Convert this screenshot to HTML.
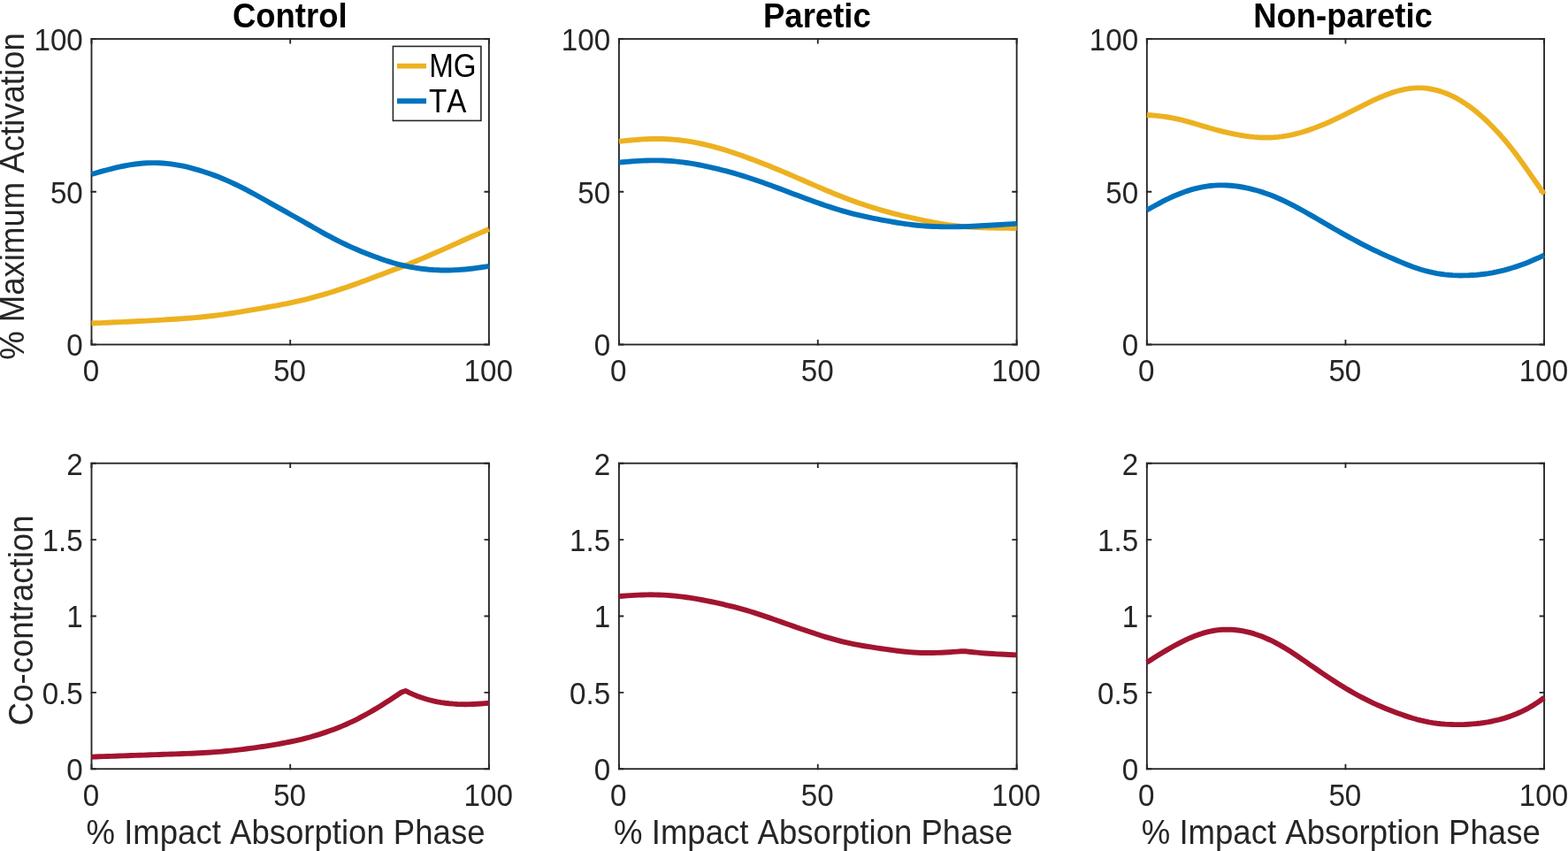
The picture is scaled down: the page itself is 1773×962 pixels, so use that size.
<!DOCTYPE html>
<html lang="en">
<head>
<meta charset="utf-8">
<title>Muscle activation and co-contraction</title>
<style>
html,body{margin:0;padding:0;background:#fff;}
body{width:1773px;height:962px;overflow:hidden;font-family:"Liberation Sans", Arial, Helvetica, sans-serif;}
svg{display:block;}
text{white-space:pre;font-kerning:none;}
</style>
</head>
<body>
<svg width="1773" height="962" viewBox="0 0 1773 962" font-family='"Liberation Sans", Arial, Helvetica, sans-serif'>
<rect width="1773" height="962" fill="#fff"/>
<g stroke="#262626" stroke-width="1.85" fill="none">
<rect x="103.5" y="44.0" width="449.4" height="345.5"/>
<path d="M103.50,390.50v-6.40M103.50,43.00v6.40M328.20,390.50v-6.40M328.20,43.00v6.40M552.90,390.50v-6.40M552.90,43.00v6.40M102.50,389.50h6.40M553.90,389.50h-6.40M102.50,216.75h6.40M553.90,216.75h-6.40M102.50,44.00h6.40M553.90,44.00h-6.40"/>
</g>
<g fill="none" stroke-width="5.9" stroke-linejoin="round">
<path d="M103.50,365.50 L107.99,365.31 L112.49,365.11 L116.98,364.91 L121.48,364.72 L125.97,364.52 L130.46,364.32 L134.96,364.12 L139.45,363.92 L143.95,363.71 L148.44,363.51 L152.93,363.29 L157.43,363.07 L161.92,362.84 L166.42,362.60 L170.91,362.36 L175.40,362.10 L179.90,361.84 L184.39,361.57 L188.89,361.30 L193.38,361.02 L197.87,360.74 L202.37,360.44 L206.86,360.14 L211.36,359.81 L215.85,359.47 L220.34,359.09 L224.84,358.69 L229.33,358.25 L233.83,357.77 L238.32,357.26 L242.81,356.72 L247.31,356.15 L251.80,355.55 L256.30,354.93 L260.79,354.27 L265.28,353.59 L269.78,352.89 L274.27,352.17 L278.77,351.43 L283.26,350.67 L287.75,349.90 L292.25,349.12 L296.74,348.33 L301.24,347.52 L305.73,346.71 L310.22,345.88 L314.72,345.04 L319.21,344.18 L323.71,343.30 L328.20,342.39 L332.69,341.45 L337.19,340.46 L341.68,339.42 L346.18,338.32 L350.67,337.17 L355.16,335.96 L359.66,334.71 L364.15,333.41 L368.65,332.08 L373.14,330.71 L377.63,329.31 L382.13,327.89 L386.62,326.43 L391.12,324.94 L395.61,323.41 L400.10,321.85 L404.60,320.24 L409.09,318.60 L413.59,316.93 L418.08,315.24 L422.57,313.54 L427.07,311.84 L431.56,310.15 L436.06,308.46 L440.55,306.79 L445.04,305.10 L449.54,303.40 L454.03,301.67 L458.53,299.91 L463.02,298.13 L467.51,296.32 L472.01,294.48 L476.50,292.61 L481.00,290.71 L485.49,288.78 L489.98,286.83 L494.48,284.87 L498.97,282.88 L503.47,280.88 L507.96,278.87 L512.45,276.85 L516.95,274.83 L521.44,272.81 L525.94,270.80 L530.43,268.80 L534.92,266.82 L539.42,264.85 L543.91,262.90 L548.41,260.95 L552.90,259.01" stroke="#EDB120"/>
<path d="M103.50,197.01 L107.99,195.72 L112.49,194.45 L116.98,193.20 L121.48,191.99 L125.97,190.83 L130.46,189.72 L134.96,188.69 L139.45,187.74 L143.95,186.89 L148.44,186.13 L152.93,185.48 L157.43,184.95 L161.92,184.54 L166.42,184.26 L170.91,184.11 L175.40,184.10 L179.90,184.23 L184.39,184.48 L188.89,184.87 L193.38,185.40 L197.87,186.05 L202.37,186.83 L206.86,187.72 L211.36,188.72 L215.85,189.83 L220.34,191.03 L224.84,192.33 L229.33,193.71 L233.83,195.18 L238.32,196.73 L242.81,198.38 L247.31,200.12 L251.80,201.95 L256.30,203.87 L260.79,205.88 L265.28,207.98 L269.78,210.15 L274.27,212.39 L278.77,214.70 L283.26,217.08 L287.75,219.51 L292.25,221.98 L296.74,224.49 L301.24,227.02 L305.73,229.56 L310.22,232.11 L314.72,234.65 L319.21,237.17 L323.71,239.69 L328.20,242.21 L332.69,244.73 L337.19,247.25 L341.68,249.79 L346.18,252.35 L350.67,254.92 L355.16,257.49 L359.66,260.04 L364.15,262.57 L368.65,265.05 L373.14,267.47 L377.63,269.83 L382.13,272.13 L386.62,274.35 L391.12,276.51 L395.61,278.60 L400.10,280.61 L404.60,282.57 L409.09,284.45 L413.59,286.27 L418.08,288.02 L422.57,289.72 L427.07,291.35 L431.56,292.94 L436.06,294.46 L440.55,295.92 L445.04,297.28 L449.54,298.53 L454.03,299.66 L458.53,300.70 L463.02,301.62 L467.51,302.44 L472.01,303.16 L476.50,303.78 L481.00,304.30 L485.49,304.73 L489.98,305.06 L494.48,305.29 L498.97,305.44 L503.47,305.49 L507.96,305.44 L512.45,305.32 L516.95,305.10 L521.44,304.81 L525.94,304.44 L530.43,303.99 L534.92,303.47 L539.42,302.90 L543.91,302.27 L548.41,301.61 L552.90,300.94" stroke="#0072BD"/>
</g>
<g fill="#262626" font-size="33.2">
<text transform="translate(102.90,431.35) scale(1.0,1.075)" text-anchor="middle">0</text>
<text transform="translate(327.60,431.35) scale(1.0,1.075)" text-anchor="middle">50</text>
<text transform="translate(552.30,431.35) scale(1.0,1.075)" text-anchor="middle">100</text>
<text transform="translate(93.80,402.35) scale(1.0,1.075)" text-anchor="end">0</text>
<text transform="translate(93.80,229.60) scale(1.0,1.075)" text-anchor="end">50</text>
<text transform="translate(93.80,56.85) scale(1.0,1.075)" text-anchor="end">100</text>
</g>
<text transform="translate(327.80,30.50) scale(1.0,1.05)" text-anchor="middle" font-size="36.5" fill="#000" font-weight="bold">Control</text>
<text transform="translate(27.10,222.05) rotate(-90) scale(1.0,1.045)" text-anchor="middle" font-size="36.55" fill="#262626">% Maximum Activation</text>
<g stroke="#262626" stroke-width="1.85" fill="none">
<rect x="699.9" y="44.0" width="449.75" height="345.5"/>
<path d="M699.90,390.50v-6.40M699.90,43.00v6.40M924.77,390.50v-6.40M924.77,43.00v6.40M1149.65,390.50v-6.40M1149.65,43.00v6.40M698.90,389.50h6.40M1150.65,389.50h-6.40M698.90,216.75h6.40M1150.65,216.75h-6.40M698.90,44.00h6.40M1150.65,44.00h-6.40"/>
</g>
<g fill="none" stroke-width="5.9" stroke-linejoin="round">
<path d="M699.90,159.83 L704.40,159.37 L708.89,158.91 L713.39,158.49 L717.89,158.09 L722.39,157.73 L726.88,157.43 L731.38,157.20 L735.88,157.04 L740.38,156.96 L744.88,156.96 L749.37,157.05 L753.87,157.23 L758.37,157.49 L762.87,157.84 L767.36,158.28 L771.86,158.81 L776.36,159.42 L780.86,160.13 L785.35,160.92 L789.85,161.79 L794.35,162.74 L798.85,163.78 L803.34,164.88 L807.84,166.06 L812.34,167.32 L816.84,168.64 L821.33,170.02 L825.83,171.46 L830.33,172.95 L834.83,174.49 L839.32,176.08 L843.82,177.70 L848.32,179.36 L852.82,181.05 L857.31,182.76 L861.81,184.51 L866.31,186.28 L870.81,188.08 L875.30,189.91 L879.80,191.76 L884.30,193.64 L888.80,195.54 L893.29,197.46 L897.79,199.40 L902.29,201.34 L906.79,203.30 L911.28,205.25 L915.78,207.21 L920.28,209.16 L924.78,211.10 L929.27,213.03 L933.77,214.93 L938.27,216.82 L942.77,218.67 L947.26,220.50 L951.76,222.28 L956.26,224.03 L960.76,225.73 L965.25,227.37 L969.75,228.97 L974.25,230.53 L978.75,232.03 L983.24,233.49 L987.74,234.91 L992.24,236.28 L996.74,237.61 L1001.23,238.89 L1005.73,240.13 L1010.23,241.31 L1014.73,242.45 L1019.22,243.54 L1023.72,244.60 L1028.22,245.63 L1032.72,246.63 L1037.21,247.62 L1041.71,248.59 L1046.21,249.54 L1050.71,250.47 L1055.20,251.36 L1059.70,252.20 L1064.20,252.98 L1068.70,253.70 L1073.19,254.34 L1077.69,254.91 L1082.19,255.41 L1086.69,255.84 L1091.18,256.21 L1095.68,256.53 L1100.18,256.80 L1104.68,257.02 L1109.17,257.21 L1113.67,257.37 L1118.17,257.50 L1122.67,257.61 L1127.16,257.71 L1131.66,257.79 L1136.16,257.86 L1140.66,257.92 L1145.15,257.97 L1149.65,258.02" stroke="#EDB120"/>
<path d="M699.90,183.58 L704.40,183.19 L708.89,182.82 L713.39,182.46 L717.89,182.14 L722.39,181.86 L726.88,181.63 L731.38,181.46 L735.88,181.36 L740.38,181.34 L744.88,181.40 L749.37,181.54 L753.87,181.76 L758.37,182.06 L762.87,182.43 L767.36,182.88 L771.86,183.41 L776.36,184.01 L780.86,184.69 L785.35,185.44 L789.85,186.25 L794.35,187.12 L798.85,188.05 L803.34,189.04 L807.84,190.07 L812.34,191.16 L816.84,192.29 L821.33,193.46 L825.83,194.68 L830.33,195.94 L834.83,197.25 L839.32,198.61 L843.82,200.02 L848.32,201.47 L852.82,202.97 L857.31,204.50 L861.81,206.08 L866.31,207.68 L870.81,209.31 L875.30,210.97 L879.80,212.64 L884.30,214.32 L888.80,216.01 L893.29,217.70 L897.79,219.39 L902.29,221.07 L906.79,222.75 L911.28,224.42 L915.78,226.07 L920.28,227.69 L924.78,229.30 L929.27,230.87 L933.77,232.42 L938.27,233.92 L942.77,235.37 L947.26,236.78 L951.76,238.13 L956.26,239.42 L960.76,240.64 L965.25,241.79 L969.75,242.88 L974.25,243.92 L978.75,244.91 L983.24,245.86 L987.74,246.77 L992.24,247.66 L996.74,248.53 L1001.23,249.38 L1005.73,250.21 L1010.23,250.99 L1014.73,251.74 L1019.22,252.45 L1023.72,253.10 L1028.22,253.70 L1032.72,254.24 L1037.21,254.73 L1041.71,255.14 L1046.21,255.49 L1050.71,255.77 L1055.20,255.99 L1059.70,256.16 L1064.20,256.28 L1068.70,256.35 L1073.19,256.37 L1077.69,256.36 L1082.19,256.31 L1086.69,256.23 L1091.18,256.10 L1095.68,255.93 L1100.18,255.72 L1104.68,255.49 L1109.17,255.24 L1113.67,254.98 L1118.17,254.71 L1122.67,254.45 L1127.16,254.19 L1131.66,253.93 L1136.16,253.67 L1140.66,253.41 L1145.15,253.16 L1149.65,252.90" stroke="#0072BD"/>
</g>
<g fill="#262626" font-size="33.2">
<text transform="translate(699.30,431.35) scale(1.0,1.075)" text-anchor="middle">0</text>
<text transform="translate(924.17,431.35) scale(1.0,1.075)" text-anchor="middle">50</text>
<text transform="translate(1149.05,431.35) scale(1.0,1.075)" text-anchor="middle">100</text>
<text transform="translate(690.20,402.35) scale(1.0,1.075)" text-anchor="end">0</text>
<text transform="translate(690.20,229.60) scale(1.0,1.075)" text-anchor="end">50</text>
<text transform="translate(690.20,56.85) scale(1.0,1.075)" text-anchor="end">100</text>
</g>
<text transform="translate(923.88,30.50) scale(1.0,1.05)" text-anchor="middle" font-size="36.5" fill="#000" font-weight="bold">Paretic</text>
<g stroke="#262626" stroke-width="1.85" fill="none">
<rect x="1296.85" y="44.0" width="449.2" height="345.5"/>
<path d="M1296.85,390.50v-6.40M1296.85,43.00v6.40M1521.45,390.50v-6.40M1521.45,43.00v6.40M1746.05,390.50v-6.40M1746.05,43.00v6.40M1295.85,389.50h6.40M1747.05,389.50h-6.40M1295.85,216.75h6.40M1747.05,216.75h-6.40M1295.85,44.00h6.40M1747.05,44.00h-6.40"/>
</g>
<g fill="none" stroke-width="5.9" stroke-linejoin="round">
<path d="M1296.85,129.94 L1301.34,130.27 L1305.83,130.65 L1310.33,131.09 L1314.82,131.63 L1319.31,132.27 L1323.80,133.03 L1328.29,133.90 L1332.79,134.88 L1337.28,135.97 L1341.77,137.14 L1346.26,138.38 L1350.75,139.68 L1355.25,141.00 L1359.74,142.33 L1364.23,143.66 L1368.72,144.96 L1373.21,146.22 L1377.71,147.43 L1382.20,148.58 L1386.69,149.66 L1391.18,150.67 L1395.67,151.61 L1400.17,152.46 L1404.66,153.22 L1409.15,153.89 L1413.64,154.45 L1418.13,154.90 L1422.63,155.23 L1427.12,155.44 L1431.61,155.51 L1436.10,155.44 L1440.59,155.22 L1445.09,154.84 L1449.58,154.31 L1454.07,153.63 L1458.56,152.80 L1463.05,151.83 L1467.55,150.73 L1472.04,149.49 L1476.53,148.13 L1481.02,146.65 L1485.51,145.06 L1490.01,143.36 L1494.50,141.56 L1498.99,139.67 L1503.48,137.70 L1507.97,135.65 L1512.47,133.54 L1516.96,131.36 L1521.45,129.14 L1525.94,126.87 L1530.43,124.59 L1534.93,122.30 L1539.42,120.02 L1543.91,117.78 L1548.40,115.58 L1552.89,113.45 L1557.39,111.40 L1561.88,109.45 L1566.37,107.62 L1570.86,105.93 L1575.35,104.39 L1579.85,103.01 L1584.34,101.83 L1588.83,100.85 L1593.32,100.10 L1597.81,99.59 L1602.31,99.33 L1606.80,99.35 L1611.29,99.65 L1615.78,100.23 L1620.27,101.06 L1624.77,102.13 L1629.26,103.45 L1633.75,105.01 L1638.24,106.83 L1642.73,108.90 L1647.23,111.22 L1651.72,113.81 L1656.21,116.64 L1660.70,119.71 L1665.19,123.04 L1669.69,126.60 L1674.18,130.41 L1678.67,134.46 L1683.16,138.74 L1687.65,143.23 L1692.15,147.92 L1696.64,152.83 L1701.13,157.98 L1705.62,163.37 L1710.11,169.00 L1714.61,174.87 L1719.10,180.94 L1723.59,187.20 L1728.08,193.59 L1732.57,200.06 L1737.07,206.52 L1741.56,212.95 L1746.05,219.36" stroke="#EDB120"/>
<path d="M1296.85,237.49 L1301.34,234.98 L1305.83,232.50 L1310.33,230.07 L1314.82,227.71 L1319.31,225.46 L1323.80,223.31 L1328.29,221.30 L1332.79,219.42 L1337.28,217.68 L1341.77,216.09 L1346.26,214.66 L1350.75,213.39 L1355.25,212.29 L1359.74,211.36 L1364.23,210.60 L1368.72,210.02 L1373.21,209.62 L1377.71,209.39 L1382.20,209.34 L1386.69,209.46 L1391.18,209.75 L1395.67,210.19 L1400.17,210.78 L1404.66,211.52 L1409.15,212.39 L1413.64,213.39 L1418.13,214.52 L1422.63,215.78 L1427.12,217.17 L1431.61,218.68 L1436.10,220.32 L1440.59,222.08 L1445.09,223.97 L1449.58,225.99 L1454.07,228.12 L1458.56,230.35 L1463.05,232.67 L1467.55,235.07 L1472.04,237.53 L1476.53,240.04 L1481.02,242.59 L1485.51,245.16 L1490.01,247.76 L1494.50,250.37 L1498.99,252.98 L1503.48,255.58 L1507.97,258.18 L1512.47,260.76 L1516.96,263.31 L1521.45,265.83 L1525.94,268.32 L1530.43,270.76 L1534.93,273.17 L1539.42,275.52 L1543.91,277.83 L1548.40,280.09 L1552.89,282.30 L1557.39,284.46 L1561.88,286.55 L1566.37,288.60 L1570.86,290.60 L1575.35,292.57 L1579.85,294.50 L1584.34,296.40 L1588.83,298.25 L1593.32,300.02 L1597.81,301.70 L1602.31,303.27 L1606.80,304.71 L1611.29,306.01 L1615.78,307.18 L1620.27,308.19 L1624.77,309.06 L1629.26,309.78 L1633.75,310.35 L1638.24,310.80 L1642.73,311.13 L1647.23,311.33 L1651.72,311.43 L1656.21,311.41 L1660.70,311.29 L1665.19,311.05 L1669.69,310.72 L1674.18,310.28 L1678.67,309.73 L1683.16,309.08 L1687.65,308.32 L1692.15,307.44 L1696.64,306.45 L1701.13,305.34 L1705.62,304.11 L1710.11,302.78 L1714.61,301.34 L1719.10,299.80 L1723.59,298.15 L1728.08,296.39 L1732.57,294.53 L1737.07,292.58 L1741.56,290.57 L1746.05,288.52" stroke="#0072BD"/>
</g>
<g fill="#262626" font-size="33.2">
<text transform="translate(1296.25,431.35) scale(1.0,1.075)" text-anchor="middle">0</text>
<text transform="translate(1520.85,431.35) scale(1.0,1.075)" text-anchor="middle">50</text>
<text transform="translate(1745.45,431.35) scale(1.0,1.075)" text-anchor="middle">100</text>
<text transform="translate(1287.15,402.35) scale(1.0,1.075)" text-anchor="end">0</text>
<text transform="translate(1287.15,229.60) scale(1.0,1.075)" text-anchor="end">50</text>
<text transform="translate(1287.15,56.85) scale(1.0,1.075)" text-anchor="end">100</text>
</g>
<text transform="translate(1518.55,30.50) scale(1.0,1.05)" text-anchor="middle" font-size="36.5" fill="#000" font-weight="bold">Non-paretic</text>
<g stroke="#262626" stroke-width="1.85" fill="none">
<rect x="103.5" y="523.7" width="449.4" height="345.5"/>
<path d="M103.50,870.20v-6.40M103.50,522.70v6.40M328.20,870.20v-6.40M328.20,522.70v6.40M552.90,870.20v-6.40M552.90,522.70v6.40M102.50,869.20h6.40M553.90,869.20h-6.40M102.50,782.83h6.40M553.90,782.83h-6.40M102.50,696.45h6.40M553.90,696.45h-6.40M102.50,610.08h6.40M553.90,610.08h-6.40M102.50,523.70h6.40M553.90,523.70h-6.40"/>
</g>
<g fill="none" stroke-width="5.9" stroke-linejoin="round">
<path d="M103.50,855.60 L107.99,855.44 L112.49,855.29 L116.98,855.14 L121.48,854.98 L125.97,854.83 L130.46,854.68 L134.96,854.52 L139.45,854.37 L143.95,854.22 L148.44,854.07 L152.93,853.92 L157.43,853.76 L161.92,853.61 L166.42,853.45 L170.91,853.29 L175.40,853.14 L179.90,852.98 L184.39,852.82 L188.89,852.66 L193.38,852.50 L197.87,852.35 L202.37,852.19 L206.86,852.03 L211.36,851.86 L215.85,851.68 L220.34,851.49 L224.84,851.27 L229.33,851.03 L233.83,850.77 L238.32,850.48 L242.81,850.16 L247.31,849.82 L251.80,849.44 L256.30,849.03 L260.79,848.60 L265.28,848.13 L269.78,847.63 L274.27,847.10 L278.77,846.54 L283.26,845.95 L287.75,845.33 L292.25,844.69 L296.74,844.01 L301.24,843.31 L305.73,842.57 L310.22,841.82 L314.72,841.04 L319.21,840.23 L323.71,839.39 L328.20,838.51 L332.69,837.58 L337.19,836.60 L341.68,835.55 L346.18,834.43 L350.67,833.23 L355.16,831.95 L359.66,830.59 L364.15,829.16 L368.65,827.65 L373.14,826.07 L377.63,824.41 L382.13,822.68 L386.62,820.86 L391.12,818.94 L395.61,816.93 L400.10,814.81 L404.60,812.58 L409.09,810.23 L413.59,807.78 L418.08,805.24 L422.57,802.61 L427.07,799.91 L431.56,797.15 L436.06,794.34 L440.55,791.48 L445.04,788.55 L449.54,785.55 L454.03,782.49 L458.53,780.92 L463.02,783.13 L467.51,785.13 L472.01,786.93 L476.50,788.55 L481.00,789.98 L485.49,791.25 L489.98,792.35 L494.48,793.30 L498.97,794.10 L503.47,794.76 L507.96,795.28 L512.45,795.68 L516.95,795.96 L521.44,796.12 L525.94,796.18 L530.43,796.13 L534.92,795.99 L539.42,795.76 L543.91,795.47 L548.41,795.14 L552.90,794.78" stroke="#A2142F"/>
</g>
<g fill="#262626" font-size="33.2">
<text transform="translate(102.90,911.05) scale(1.0,1.075)" text-anchor="middle">0</text>
<text transform="translate(327.60,911.05) scale(1.0,1.075)" text-anchor="middle">50</text>
<text transform="translate(552.30,911.05) scale(1.0,1.075)" text-anchor="middle">100</text>
<text transform="translate(93.80,882.05) scale(1.0,1.075)" text-anchor="end">0</text>
<text transform="translate(93.80,795.68) scale(1.0,1.075)" text-anchor="end">0.5</text>
<text transform="translate(93.80,709.30) scale(1.0,1.075)" text-anchor="end">1</text>
<text transform="translate(93.80,622.93) scale(1.0,1.075)" text-anchor="end">1.5</text>
<text transform="translate(93.80,536.55) scale(1.0,1.075)" text-anchor="end">2</text>
</g>
<text transform="translate(323.00,953.90) scale(1.0,1.045)" text-anchor="middle" font-size="36.55" fill="#262626">% Impact Absorption Phase</text>
<text transform="translate(36.50,701.35) rotate(-90) scale(1.0,1.045)" text-anchor="middle" font-size="36.55" fill="#262626">Co-contraction</text>
<g stroke="#262626" stroke-width="1.85" fill="none">
<rect x="699.9" y="523.7" width="449.75" height="345.5"/>
<path d="M699.90,870.20v-6.40M699.90,522.70v6.40M924.77,870.20v-6.40M924.77,522.70v6.40M1149.65,870.20v-6.40M1149.65,522.70v6.40M698.90,869.20h6.40M1150.65,869.20h-6.40M698.90,782.83h6.40M1150.65,782.83h-6.40M698.90,696.45h6.40M1150.65,696.45h-6.40M698.90,610.08h6.40M1150.65,610.08h-6.40M698.90,523.70h6.40M1150.65,523.70h-6.40"/>
</g>
<g fill="none" stroke-width="5.9" stroke-linejoin="round">
<path d="M699.90,674.01 L704.40,673.69 L708.89,673.38 L713.39,673.09 L717.89,672.83 L722.39,672.61 L726.88,672.44 L731.38,672.33 L735.88,672.29 L740.38,672.33 L744.88,672.44 L749.37,672.63 L753.87,672.89 L758.37,673.23 L762.87,673.63 L767.36,674.10 L771.86,674.64 L776.36,675.24 L780.86,675.91 L785.35,676.63 L789.85,677.41 L794.35,678.23 L798.85,679.10 L803.34,680.01 L807.84,680.96 L812.34,681.94 L816.84,682.96 L821.33,684.01 L825.83,685.10 L830.33,686.23 L834.83,687.41 L839.32,688.64 L843.82,689.92 L848.32,691.26 L852.82,692.65 L857.31,694.09 L861.81,695.58 L866.31,697.10 L870.81,698.65 L875.30,700.22 L879.80,701.80 L884.30,703.39 L888.80,704.98 L893.29,706.57 L897.79,708.15 L902.29,709.72 L906.79,711.27 L911.28,712.81 L915.78,714.32 L920.28,715.81 L924.78,717.27 L929.27,718.69 L933.77,720.07 L938.27,721.40 L942.77,722.68 L947.26,723.90 L951.76,725.06 L956.26,726.15 L960.76,727.15 L965.25,728.08 L969.75,728.94 L974.25,729.74 L978.75,730.50 L983.24,731.21 L987.74,731.90 L992.24,732.56 L996.74,733.22 L1001.23,733.88 L1005.73,734.53 L1010.23,735.14 L1014.73,735.73 L1019.22,736.26 L1023.72,736.75 L1028.22,737.17 L1032.72,737.52 L1037.21,737.79 L1041.71,737.97 L1046.21,738.06 L1050.71,738.06 L1055.20,737.99 L1059.70,737.86 L1064.20,737.68 L1068.70,737.46 L1073.19,737.20 L1077.69,736.92 L1082.19,736.62 L1086.69,736.29 L1091.18,736.15 L1095.68,736.72 L1100.18,737.23 L1104.68,737.68 L1109.17,738.09 L1113.67,738.45 L1118.17,738.77 L1122.67,739.06 L1127.16,739.33 L1131.66,739.56 L1136.16,739.78 L1140.66,739.99 L1145.15,740.18 L1149.65,740.37" stroke="#A2142F"/>
</g>
<g fill="#262626" font-size="33.2">
<text transform="translate(699.30,911.05) scale(1.0,1.075)" text-anchor="middle">0</text>
<text transform="translate(924.17,911.05) scale(1.0,1.075)" text-anchor="middle">50</text>
<text transform="translate(1149.05,911.05) scale(1.0,1.075)" text-anchor="middle">100</text>
<text transform="translate(690.20,882.05) scale(1.0,1.075)" text-anchor="end">0</text>
<text transform="translate(690.20,795.68) scale(1.0,1.075)" text-anchor="end">0.5</text>
<text transform="translate(690.20,709.30) scale(1.0,1.075)" text-anchor="end">1</text>
<text transform="translate(690.20,622.93) scale(1.0,1.075)" text-anchor="end">1.5</text>
<text transform="translate(690.20,536.55) scale(1.0,1.075)" text-anchor="end">2</text>
</g>
<text transform="translate(919.58,953.90) scale(1.0,1.045)" text-anchor="middle" font-size="36.55" fill="#262626">% Impact Absorption Phase</text>
<g stroke="#262626" stroke-width="1.85" fill="none">
<rect x="1296.85" y="523.7" width="449.2" height="345.5"/>
<path d="M1296.85,870.20v-6.40M1296.85,522.70v6.40M1521.45,870.20v-6.40M1521.45,522.70v6.40M1746.05,870.20v-6.40M1746.05,522.70v6.40M1295.85,869.20h6.40M1747.05,869.20h-6.40M1295.85,782.83h6.40M1747.05,782.83h-6.40M1295.85,696.45h6.40M1747.05,696.45h-6.40M1295.85,610.08h6.40M1747.05,610.08h-6.40M1295.85,523.70h6.40M1747.05,523.70h-6.40"/>
</g>
<g fill="none" stroke-width="5.9" stroke-linejoin="round">
<path d="M1296.85,748.68 L1301.34,745.89 L1305.83,743.09 L1310.33,740.30 L1314.82,737.55 L1319.31,734.87 L1323.80,732.26 L1328.29,729.75 L1332.79,727.35 L1337.28,725.07 L1341.77,722.92 L1346.26,720.92 L1350.75,719.08 L1355.25,717.41 L1359.74,715.93 L1364.23,714.66 L1368.72,713.59 L1373.21,712.75 L1377.71,712.14 L1382.20,711.76 L1386.69,711.60 L1391.18,711.68 L1395.67,711.97 L1400.17,712.47 L1404.66,713.17 L1409.15,714.07 L1413.64,715.17 L1418.13,716.46 L1422.63,717.93 L1427.12,719.59 L1431.61,721.44 L1436.10,723.46 L1440.59,725.67 L1445.09,728.05 L1449.58,730.61 L1454.07,733.30 L1458.56,736.12 L1463.05,739.04 L1467.55,742.04 L1472.04,745.10 L1476.53,748.19 L1481.02,751.31 L1485.51,754.42 L1490.01,757.52 L1494.50,760.59 L1498.99,763.63 L1503.48,766.63 L1507.97,769.57 L1512.47,772.45 L1516.96,775.26 L1521.45,778.00 L1525.94,780.65 L1530.43,783.22 L1534.93,785.71 L1539.42,788.11 L1543.91,790.42 L1548.40,792.65 L1552.89,794.79 L1557.39,796.84 L1561.88,798.80 L1566.37,800.69 L1570.86,802.51 L1575.35,804.26 L1579.85,805.95 L1584.34,807.58 L1588.83,809.15 L1593.32,810.63 L1597.81,812.01 L1602.31,813.27 L1606.80,814.42 L1611.29,815.43 L1615.78,816.33 L1620.27,817.09 L1624.77,817.72 L1629.26,818.23 L1633.75,818.62 L1638.24,818.90 L1642.73,819.07 L1647.23,819.14 L1651.72,819.11 L1656.21,818.98 L1660.70,818.75 L1665.19,818.43 L1669.69,818.01 L1674.18,817.48 L1678.67,816.84 L1683.16,816.10 L1687.65,815.23 L1692.15,814.24 L1696.64,813.10 L1701.13,811.82 L1705.62,810.39 L1710.11,808.79 L1714.61,807.01 L1719.10,805.06 L1723.59,802.90 L1728.08,800.52 L1732.57,797.91 L1737.07,795.07 L1741.56,792.01 L1746.05,788.75" stroke="#A2142F"/>
</g>
<g fill="#262626" font-size="33.2">
<text transform="translate(1296.25,911.05) scale(1.0,1.075)" text-anchor="middle">0</text>
<text transform="translate(1520.85,911.05) scale(1.0,1.075)" text-anchor="middle">50</text>
<text transform="translate(1745.45,911.05) scale(1.0,1.075)" text-anchor="middle">100</text>
<text transform="translate(1287.15,882.05) scale(1.0,1.075)" text-anchor="end">0</text>
<text transform="translate(1287.15,795.68) scale(1.0,1.075)" text-anchor="end">0.5</text>
<text transform="translate(1287.15,709.30) scale(1.0,1.075)" text-anchor="end">1</text>
<text transform="translate(1287.15,622.93) scale(1.0,1.075)" text-anchor="end">1.5</text>
<text transform="translate(1287.15,536.55) scale(1.0,1.075)" text-anchor="end">2</text>
</g>
<text transform="translate(1516.25,953.90) scale(1.0,1.045)" text-anchor="middle" font-size="36.55" fill="#262626">% Impact Absorption Phase</text>
<g>
<rect x="444.4" y="52.4" width="99.5" height="84" fill="#fff" stroke="#262626" stroke-width="1.6"/>
<path d="M449,74.6H482" stroke="#EDB120" stroke-width="5.9" fill="none"/>
<path d="M449,114.3H482" stroke="#0072BD" stroke-width="5.9" fill="none"/>
<g font-size="33.2" fill="#000">
<text transform="translate(485.20,86.90) scale(1.0,1.1)">MG</text>
<text transform="translate(485.10,126.90) scale(1.0,1.1)">TA</text>
</g>
</g>
</svg>
</body>
</html>
